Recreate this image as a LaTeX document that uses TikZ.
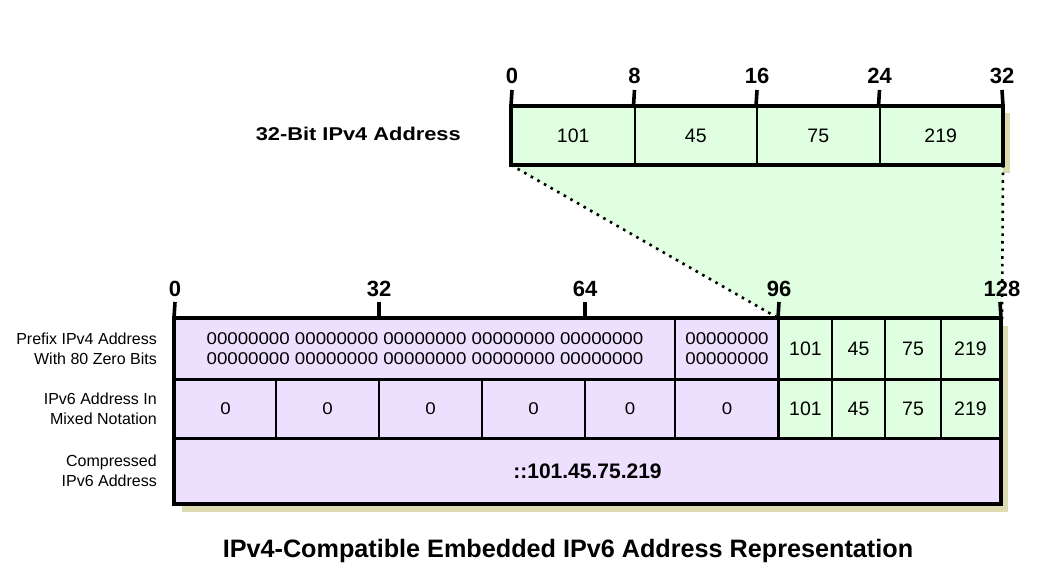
\documentclass[tikz,border=0pt]{standalone}
\usepackage{fontspec}
\setmainfont{Liberation Sans}
\newfontfamily\widefont[FakeStretch=1.1]{Liberation Sans}
\newfontfamily\widerfont[FakeStretch=1.18]{Liberation Sans}
\definecolor{cgreen}{HTML}{E0FFE0}
\definecolor{cpurple}{HTML}{EDE0FF}
\definecolor{cshadow}{HTML}{DCDAB0}
\tikzset{
  cellbase/.style={draw=black, line width=2pt, inner sep=0pt, align=center},
  gcell/.style={cellbase, fill=cgreen, font=\fontsize{19.5}{22}\selectfont},
  pcell/.style={cellbase, fill=cpurple, font=\widefont\fontsize{17}{20}\selectfont},
  frame/.style={draw=black, line width=3.6pt, line cap=rect},
  tickline/.style={draw=black, line width=3.6pt},
  ticklbl/.style={anchor=base, inner sep=0pt, font=\bfseries\fontsize{22}{24}\selectfont},
  rowlbl/.style={anchor=east, align=right, inner sep=0pt, font=\fontsize{16}{20}\selectfont},
  dotline/.style={draw=black, line width=2.6pt, dash pattern=on 2.6pt off 5pt},
  shadow/.style={fill=cshadow}
}
\begin{document}
\begin{tikzpicture}[x=1pt,y=-1pt]
\useasboundingbox[fill=white] (0,0) rectangle (1044,575);

% shadows
\fill[shadow] (1002,113) rectangle (1010,173);
\fill[shadow] (182,326) rectangle (1008,512);

% top box (32-bit IPv4)
\node[gcell, minimum width=122.5pt, minimum height=57pt] (t1) at (573.25,135.5) {101};
\node[gcell, minimum width=122.5pt, minimum height=57pt] (t2) at (695.75,135.5) {45};
\node[gcell, minimum width=122.5pt, minimum height=57pt] (t3) at (818.25,135.5) {75};
\node[gcell, minimum width=122.5pt, minimum height=57pt] (t4) at (940.75,135.5) {219};

% bottom box row 1
\node[pcell, minimum width=500pt, minimum height=60pt] (p1) at (425,349)
  {00000000 00000000 00000000 00000000 00000000\\00000000 00000000 00000000 00000000 00000000};
\node[pcell, minimum width=104pt, minimum height=60pt] (p2) at (727,349) {00000000\\00000000};
\node[gcell, minimum width=53pt, minimum height=60pt] (g1) at (805.5,349) {101};
\node[gcell, minimum width=53pt, minimum height=60pt] (g2) at (858.5,349) {45};
\node[gcell, minimum width=56pt, minimum height=60pt] (g3) at (913,349) {75};
\node[gcell, minimum width=59pt, minimum height=60pt] (g4) at (970.5,349) {219};

% bottom box row 2
\node[pcell, minimum width=101pt, minimum height=60pt] (z1) at (225.5,409) {0};
\node[pcell, minimum width=103pt, minimum height=60pt] (z2) at (327.5,409) {0};
\node[pcell, minimum width=103pt, minimum height=60pt] (z3) at (430.5,409) {0};
\node[pcell, minimum width=103pt, minimum height=60pt] (z4) at (533.5,409) {0};
\node[pcell, minimum width=90pt, minimum height=60pt] (z5) at (630,409) {0};
\node[pcell, minimum width=104pt, minimum height=60pt] (z6) at (727,409) {0};
\node[gcell, minimum width=53pt, minimum height=60pt] (h1) at (805.5,409) {101};
\node[gcell, minimum width=53pt, minimum height=60pt] (h2) at (858.5,409) {45};
\node[gcell, minimum width=56pt, minimum height=60pt] (h3) at (913,409) {75};
\node[gcell, minimum width=59pt, minimum height=60pt] (h4) at (970.5,409) {219};

% bottom box row 3
\node[cellbase, fill=cpurple, minimum width=825pt, minimum height=64pt,
  font=\bfseries\fontsize{21}{24}\selectfont] (c1) at (587.5,471) {::101.45.75.219};

% green projection area
\fill[cgreen] (t1.south west) -- (t4.south east) -- (g4.north east) -- (g1.north west) -- cycle;

% frames
\draw[frame] (t1.north west) rectangle (t4.south east);
\draw[frame] (p1.north west) rectangle (c1.south east);
\draw[draw=black, line width=2.6pt] (g1.north west) -- (h1.south west);
\draw[draw=black, line width=2.6pt] (p1.south west) -- (g4.south east);
\draw[draw=black, line width=2.6pt] (c1.north west) -- (c1.north east);

% top ticks
\coordinate (ta0) at (512,90);
\coordinate (ta8) at (634.5,90);
\coordinate (ta16) at (757,90);
\coordinate (ta24) at (879.5,90);
\coordinate (ta32) at (1002,90);
\draw[tickline] (ta0) -- (t1.north west);
\draw[tickline] (ta8) -- (t2.north west);
\draw[tickline] (ta16) -- (t3.north west);
\draw[tickline] (ta24) -- (t4.north west);
\draw[tickline] (ta32) -- (t4.north east);
\node[ticklbl] (lt0) at (512,84) {0};
\node[ticklbl] (lt8) at (634.5,84) {8};
\node[ticklbl] (lt16) at (757,84) {16};
\node[ticklbl] (lt24) at (879.5,84) {24};
\node[ticklbl] (lt32) at (1002,84) {32};

% bottom ticks
\coordinate (tb0) at (175,302);
\coordinate (tb32) at (379,302);
\coordinate (tb64) at (585,302);
\coordinate (tb96) at (779,302);
\coordinate (tb128) at (1000,302);
\coordinate (bt32) at (379,319);
\coordinate (bt64) at (585,319);
\draw[tickline] (tb0) -- (p1.north west);
\draw[tickline] (tb32) -- (bt32);
\draw[tickline] (tb64) -- (bt64);
\draw[tickline] (tb96) -- (g1.north west);
\draw[tickline] (tb128) -- (g4.north east);
\node[ticklbl] (lb0) at (175,296) {0};
\node[ticklbl] (lb32) at (379,296) {32};
\node[ticklbl] (lb64) at (585,296) {64};
\node[ticklbl] (lb96) at (779,296) {96};
\node[ticklbl] (lb128) at (1002,296) {128};

% dotted projection lines
\coordinate (d128) at (1002,319);
\draw[dotline] (t1.south west) -- (g1.north west);
\draw[dotline] (t4.south east) -- (d128);

% labels
\node[anchor=east, inner sep=0pt, font=\widerfont\bfseries\fontsize{18.5}{20}\selectfont] (ipv4lbl) at (461,134) {32-Bit IPv4 Address};
\node[rowlbl] (r1) at (157,349) {Prefix IPv4 Address\\With 80 Zero Bits};
\node[rowlbl] (r2) at (157,409) {IPv6 Address In\\Mixed Notation};
\node[rowlbl] (r3) at (157,471) {Compressed\\IPv6 Address};
\node[inner sep=0pt, font=\bfseries\fontsize{25.2}{28}\selectfont] (title) at (568,551)
  {IPv4-Compatible Embedded IPv6 Address Representation};
\end{tikzpicture}
\end{document}
